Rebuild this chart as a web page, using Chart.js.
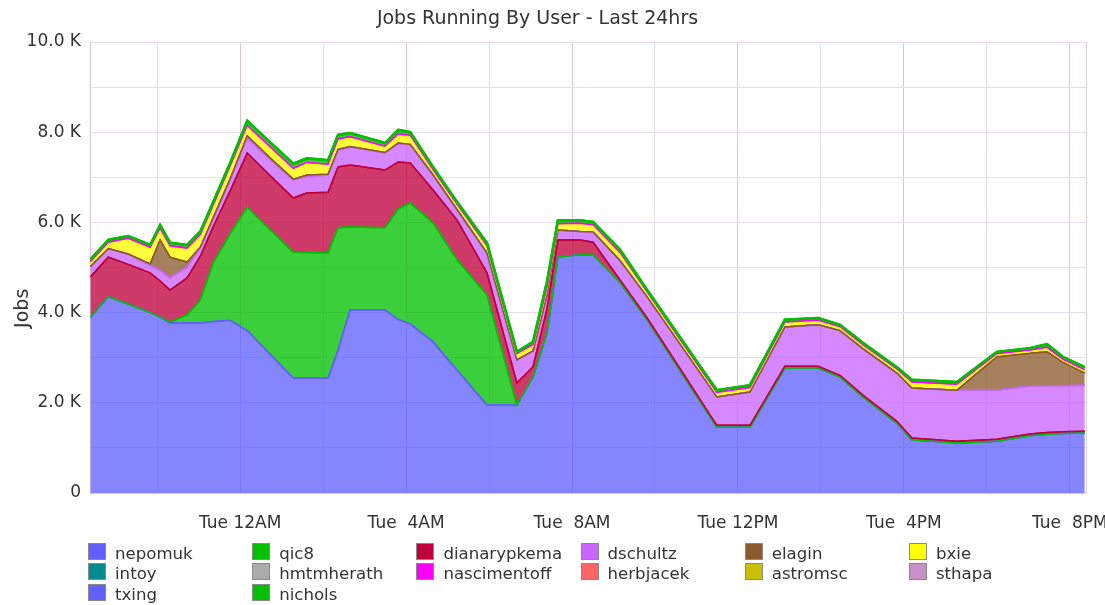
<!DOCTYPE html>
<html>
<head>
<meta charset="utf-8">
<script src="https://cdn.jsdelivr.net/npm/chart.js@4.4.1/dist/chart.umd.min.js"></script>
<style>
html,body{margin:0;padding:0;background:#fff;overflow:hidden;}
#wrap{position:relative;width:1105px;height:605px;}
#c{position:absolute;left:0;top:0;}
#legend{position:absolute;left:88px;top:540.8px;display:grid;grid-template-columns:repeat(6,164.2px);grid-auto-rows:20.8px;font-family:"DejaVu Sans";font-size:16.6px;color:#333;}
.item{display:flex;align-items:center;white-space:nowrap;}
.box{width:16px;height:15px;border:1px solid #8a8a8a;margin-right:9px;flex:none;}
.txt{position:relative;top:2px;}
</style>
</head>
<body>
<div id="wrap">
<canvas id="c" width="1105" height="605"></canvas>
<div id="legend"></div>
</div>
<script>
// Time in hours relative to Tue 12AM
const hours = [-3.61, -3.18, -2.70, -2.17, -1.93, -1.69, -1.28, -0.96, -0.65, -0.24,
  0.17, 0.72, 1.28, 1.61, 2.12, 2.36, 2.65, 3.49, 3.81, 4.10,
  4.65, 5.23, 5.95, 6.67, 7.06, 7.40, 7.66, 8.19, 8.51, 9.16,
  9.81, 11.49, 12.29, 13.13, 13.93, 14.46, 15.01, 15.83, 16.19, 17.28,
  18.24, 19.04, 19.45, 19.83, 20.36];

const nepomuk = [3900, 4350, 4190, 4000, 3900, 3770, 3770, 3770, 3800, 3830,
  3600, 3080, 2550, 2550, 2550, 3170, 4060, 4060, 3850, 3750,
  3350, 2720, 1950, 1950, 2570, 3550, 5230, 5280, 5280, 4660,
  3840, 1460, 1460, 2770, 2770, 2570, 2130, 1550, 1180, 1110,
  1150, 1270, 1300, 1320, 1330];
const qic8 = [0, 0, 0, 0, 0, 20, 180, 510, 1300, 1920,
  2740, 2760, 2790, 2780, 2770, 2710, 1840, 1820, 2450, 2680,
  2640, 2450, 2440, 0, 0, 0, 0, 0, 0, 0,
  0, 0, 0, 0, 0, 0, 0, 0, 0, 0,
  0, 0, 0, 0, 0];
const dianarypkema = [890, 880, 880, 880, 800, 710, 820, 970, 800, 950,
  1200, 1200, 1200, 1320, 1350, 1350, 1370, 1280, 1040, 890,
  730, 880, 490, 490, 230, 550, 380, 330, 280, 60,
  40, 40, 40, 40, 40, 40, 40, 40, 40, 40,
  40, 40, 40, 40, 40];
const dschultz = [230, 190, 230, 170, 240, 270, 240, 200, 200, 250,
  330, 360, 400, 370, 380, 370, 400, 380, 410, 400,
  330, 230, 440, 510, 350, 300, 220, 190, 230, 430,
  470, 630, 740, 870, 920, 990, 1030, 1070, 1110, 1130,
  1090, 1060, 1040, 1020, 1020];
const elagin = [0, 0, 0, 30, 670, 460, 110, 0, 0, 20,
  50, 30, 20, 30, 20, 20, 10, 10, 10, 10,
  0, 0, 0, 0, 0, 0, 0, 0, 0, 0,
  0, 0, 0, 0, 0, 0, 0, 0, 0, 0,
  740, 730, 750, 520, 270];
const bxie = [80, 110, 320, 340, 230, 220, 280, 250, 250, 250,
  200, 220, 210, 250, 190, 200, 190, 110, 170, 170,
  90, 90, 130, 110, 110, 150, 110, 150, 130, 150,
  80, 70, 70, 80, 70, 60, 60, 60, 100, 100,
  40, 40, 70, 40, 40];
const intoy = [0, 0, 0, 0, 0, 0, 0, 0, 0, 0,
  0, 0, 0, 0, 0, 0, 0, 0, 0, 0,
  0, 0, 0, 0, 0, 0, 0, 0, 0, 0,
  0, 0, 0, 0, 0, 0, 0, 0, 0, 0,
  0, 0, 0, 0, 0];
const hmtmherath = [0, 0, 0, 0, 0, 0, 0, 0, 0, 0,
  0, 0, 0, 0, 0, 0, 0, 0, 0, 0,
  0, 0, 0, 0, 0, 0, 0, 0, 0, 0,
  0, 0, 0, 0, 0, 0, 0, 0, 0, 0,
  0, 0, 0, 0, 0];
const nascimentoff = [30, 30, 30, 30, 30, 30, 30, 30, 30, 30,
  30, 30, 30, 30, 30, 30, 30, 30, 30, 30,
  30, 30, 30, 30, 30, 30, 30, 30, 30, 30,
  30, 30, 30, 30, 30, 30, 30, 30, 30, 30,
  30, 30, 30, 30, 30];
const herbjacek = [0, 0, 0, 0, 0, 0, 0, 0, 0, 0,
  0, 0, 0, 0, 0, 0, 0, 0, 0, 0,
  0, 0, 0, 0, 0, 0, 0, 0, 0, 0,
  0, 0, 0, 0, 0, 0, 0, 0, 0, 0,
  0, 0, 0, 0, 0];
const astromsc = [0, 0, 0, 0, 0, 0, 0, 0, 0, 0,
  0, 0, 0, 0, 0, 0, 0, 0, 0, 0,
  0, 0, 0, 0, 0, 0, 0, 0, 0, 0,
  0, 0, 0, 0, 0, 0, 0, 0, 0, 0,
  0, 0, 0, 0, 0];
const sthapa = [0, 0, 0, 0, 0, 0, 0, 0, 0, 0,
  0, 0, 0, 0, 0, 0, 0, 0, 0, 0,
  0, 0, 0, 0, 0, 0, 0, 0, 0, 0,
  0, 0, 0, 0, 0, 0, 0, 0, 0, 0,
  0, 0, 0, 0, 0];
const txing = [0, 0, 0, 0, 0, 0, 0, 0, 0, 0,
  0, 0, 0, 0, 0, 0, 0, 0, 0, 0,
  0, 0, 0, 0, 0, 0, 0, 0, 0, 0,
  0, 0, 0, 0, 0, 0, 0, 0, 0, 0,
  0, 0, 0, 0, 0];
const nichols = [50, 50, 50, 50, 70, 70, 70, 70, 70, 70,
  100, 100, 100, 90, 90, 90, 80, 70, 90, 70,
  60, 50, 60, 40, 60, 120, 80, 70, 60, 60,
  40, 50, 50, 50, 50, 40, 40, 40, 50, 50,
  40, 40, 70, 50, 60];

const seriesNames = ['nepomuk','qic8','dianarypkema','dschultz','elagin','bxie',
  'intoy','hmtmherath','nascimentoff','herbjacek','astromsc','sthapa','txing','nichols'];
const seriesValues = [nepomuk, qic8, dianarypkema, dschultz, elagin, bxie,
  intoy, hmtmherath, nascimentoff, herbjacek, astromsc, sthapa, txing, nichols];
const seriesColors = ['#6060ff','#00c000','#c0003a','#c864ff','#8c5a2d','#ffff00',
  '#008c8c','#aaaaaa','#ff00ff','#ff6464','#c8c000','#c890c8','#6060ff','#00c000'];

const tickHours = [0, 4, 8, 12, 16, 20];
const tickLabels = ['Tue 12AM', 'Tue  4AM', 'Tue  8AM', 'Tue 12PM', 'Tue  4PM', 'Tue  8PM'];
const chartTitle = 'Jobs Running By User - Last 24hrs';
const yAxisTitle = 'Jobs';

function hexA(hex, a) {
  const n = parseInt(hex.slice(1), 16);
  return 'rgba(' + ((n >> 16) & 255) + ',' + ((n >> 8) & 255) + ',' + (n & 255) + ',' + a + ')';
}

const datasets = seriesNames.map((name, i) => ({
  label: name,
  data: hours.map((h, j) => ({x: h, y: seriesValues[i][j]})),
  backgroundColor: hexA(seriesColors[i], 0.77),
  borderColor: seriesColors[i],
  borderWidth: seriesValues[i].some(v => v > 0) ? (name === 'nichols' ? 2.5 : 1.5) : 0,
  fill: i === 0 ? 'origin' : '-1',
  pointRadius: 0,
  pointHoverRadius: 0,
  tension: 0
}));

// redraw outlines bottom-to-top so upper series' lines sit on top
const lineRedraw = {
  id: 'lineRedraw',
  afterDatasetsDraw(chart) {
    const ctx = chart.ctx, a = chart.chartArea;
    ctx.save();
    ctx.beginPath();
    ctx.rect(a.left, a.top, a.right - a.left, a.bottom - a.top);
    ctx.clip();
    chart.data.datasets.forEach((d, i) => {
      const m = chart.getDatasetMeta(i);
      if (!m.hidden && m.dataset) m.dataset.draw(ctx, a);
    });
    ctx.restore();
  }
};

const frame = {
  id: 'frame',
  beforeDatasetsDraw(chart) {
    const ctx = chart.ctx, a = chart.chartArea;
    ctx.save();
    ctx.strokeStyle = '#dcd0dc';
    ctx.lineWidth = 1;
    ctx.beginPath();
    ctx.moveTo(Math.round(a.right) + 0.5, a.top);
    ctx.lineTo(Math.round(a.right) + 0.5, a.bottom);
    ctx.stroke();
    ctx.restore();
  }
};

const texts = {
  id: 'texts',
  afterDraw(chart) {
    const ctx = chart.ctx;
    ctx.save();
    ctx.fillStyle = '#333';
    ctx.font = '19px "DejaVu Sans"';
    ctx.textAlign = 'center';
    ctx.textBaseline = 'alphabetic';
    ctx.fillText(chartTitle, 537.5, 24);
    ctx.translate(27.5, 308.3);
    ctx.rotate(-Math.PI / 2);
    ctx.fillText(yAxisTitle, 0, 0);
    ctx.restore();
  }
};

Chart.defaults.font.family = '"DejaVu Sans"';
Chart.defaults.color = '#333';

const chart = new Chart(document.getElementById('c'), {
  type: 'line',
  data: {datasets},
  options: {
    responsive: false,
    animation: false,
    devicePixelRatio: 1,
    layout: {padding: {left: 0, right: 19, top: 42, bottom: 72}},
    plugins: {legend: {display: false}, title: {display: false}, tooltip: {enabled: false}},
    scales: {
      x: {
        type: 'linear',
        min: -3.62,
        max: 20.39,
        ticks: {
          stepSize: 2,
          includeBounds: false,
          autoSkip: false,
          maxRotation: 0,
          minRotation: 0,
          padding: 20,
          color: '#333',
          font: {size: 17},
          callback: (v) => { const k = tickHours.indexOf(v); return k >= 0 ? tickLabels[k] : ''; }
        },
        grid: {
          drawTicks: false,
          lineWidth: 1,
          color: (c) => (c.tick && tickHours.includes(c.tick.value)) ? '#dcc2dc' : '#e3dde5'
        },
        border: {color: '#dcc2dc'},
        afterFit: (s) => { s.paddingLeft = 0; s.paddingRight = 0; s.height = 40; }
      },
      y: {
        stacked: true,
        min: 0,
        max: 10000,
        ticks: {
          stepSize: 1000,
          autoSkip: false,
          padding: 9,
          color: '#333',
          font: {size: 17},
          callback: (v) => v % 2000 === 0 ? (v === 0 ? '0' : (v / 1000).toFixed(1) + ' K') : ''
        },
        grid: {drawTicks: false, lineWidth: 1, color: '#eadcea'},
        border: {color: '#dcc2dc'},
        afterFit: (s) => { s.width = 90; }
      }
    }
  },
  plugins: [frame, lineRedraw, texts]
});

// HTML legend built from the chart's datasets
const legend = document.getElementById('legend');
chart.data.datasets.forEach((d) => {
  const item = document.createElement('div');
  item.className = 'item';
  const box = document.createElement('span');
  box.className = 'box';
  box.style.background = d.borderColor;
  const txt = document.createElement('span');
  txt.className = 'txt';
  txt.textContent = d.label;
  item.appendChild(box);
  item.appendChild(txt);
  legend.appendChild(item);
});
</script>
</body>
</html>
